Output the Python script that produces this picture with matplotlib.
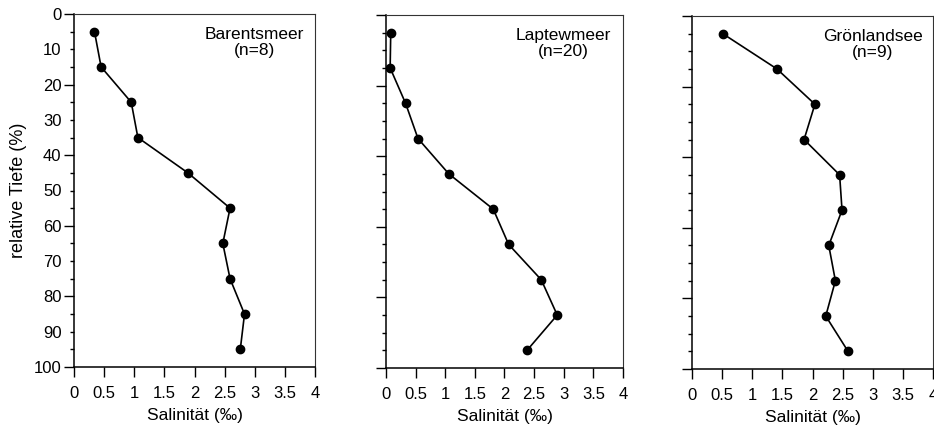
import matplotlib
matplotlib.use("Agg")
import matplotlib.pyplot as plt

plt.rcParams["font.family"] = ["Liberation Sans", "DejaVu Sans"]

# relative depth (%) of each sample layer
depth = [5, 15, 25, 35, 45, 55, 65, 75, 85, 95]

# mean salinity (‰) per layer for each sea
barents = [0.34, 0.45, 0.95, 1.06, 1.89, 2.59, 2.47, 2.59, 2.83, 2.76]
laptew = [0.08, 0.07, 0.33, 0.54, 1.06, 1.81, 2.07, 2.62, 2.89, 2.38]
groenland = [0.51, 1.41, 2.04, 1.86, 2.45, 2.49, 2.27, 2.38, 2.22, 2.59]

panels = [
    ("Barentsmeer", 8, barents),
    ("Laptewmeer", 20, laptew),
    ("Grönlandsee", 9, groenland),
]

x_ticks = [0, 0.5, 1, 1.5, 2, 2.5, 3, 3.5, 4]
x_labels = ["0", "0.5", "1", "1.5", "2", "2.5", "3", "3.5", "4"]
y_major = list(range(0, 101, 10))
y_minor = list(range(5, 100, 10))

fig = plt.figure(figsize=(9.34, 4.32), dpi=100)
boxes = [
    [74 / 934, 65 / 432, 241 / 934, 353 / 432],
    [386 / 934, 64 / 432, 237 / 934, 353 / 432],
    [692 / 934, 63 / 432, 241 / 934, 353 / 432],
]

for i, ((name, n, sal), box) in enumerate(zip(panels, boxes)):
    ax = fig.add_axes(box)
    ax.plot(sal, depth, "-o", color="black", lw=1.2, ms=6, mfc="black", mec="black")
    ax.set_xlim(0, 4)
    ax.set_ylim(100, 0)

    ax.set_xticks(x_ticks)
    ax.set_xticklabels(x_labels, fontsize=12)
    ax.tick_params(axis="x", direction="out", length=7, width=1.0, pad=7)

    ax.set_yticks(y_major)
    ax.set_yticks(y_minor, minor=True)
    ax.tick_params(axis="y", which="both", direction="out", length=3, width=1.0, pad=6)
    # every 20 % gets a longer tick
    for t, v in zip(ax.yaxis.get_major_ticks(), y_major):
        if v % 20 == 0:
            t.tick1line.set_markersize(7)
    if i == 0:
        ax.set_yticklabels([str(v) for v in y_major], fontsize=12)
        ax.set_ylabel("relative Tiefe (%)", fontsize=13, labelpad=5)
    else:
        ax.set_yticklabels([])

    ax.set_xlabel("Salinität (‰)", fontsize=12.5, labelpad=5)

    for side in ["left", "bottom"]:
        ax.spines[side].set_linewidth(1.1)
        ax.spines[side].set_color("black")
    for side in ["top", "right"]:
        ax.spines[side].set_linewidth(0.8)
        ax.spines[side].set_color("#333333")

    ax.text(3.0, 8.0, f"{name}\n(n={n})", ha="center", va="center",
            fontsize=12.5, linespacing=1.05)

fig.savefig("out.png", dpi=100)
